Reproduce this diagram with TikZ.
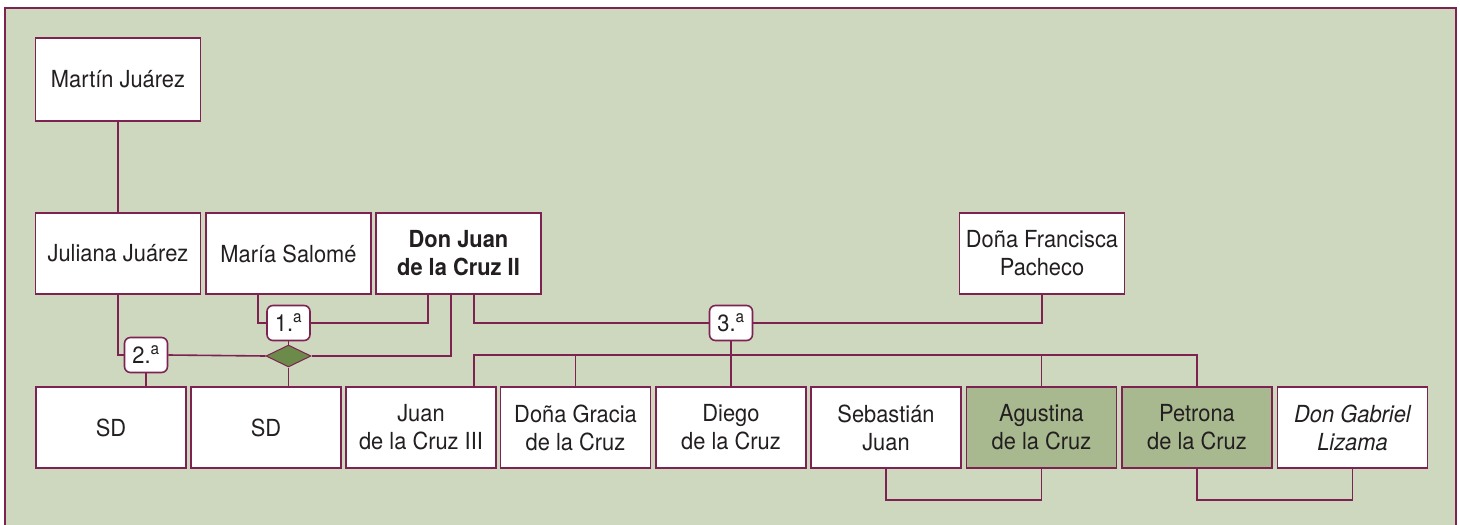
\documentclass[tikz,border=0pt]{standalone}
\usepackage{fontspec}
\setmainfont{TeX Gyre Heros}[FakeStretch=0.93]
\usetikzlibrary{shapes.geometric}
\definecolor{bord}{RGB}{126,34,82}
\definecolor{bggreen}{RGB}{205,216,191}
\definecolor{shade}{RGB}{168,184,143}
\definecolor{diam}{RGB}{108,138,74}
\definecolor{txt}{RGB}{35,31,32}
\tikzset{
  person/.style={draw=bord, fill=white, line width=1.6pt, minimum width=150pt, minimum height=81pt,
    inner sep=0pt, align=center, text=txt, font=\fontsize{23.5}{28}\selectfont},
  wide/.style={minimum width=165pt},
  shaded/.style={fill=shade},
  marr/.style={draw=bord, fill=white, line width=1.6pt, rounded corners=6pt, minimum width=43pt,
    minimum height=35pt, inner sep=0pt, text=txt, font=\fontsize{23.5}{26}\selectfont},
  link/.style={draw=bord, line width=1.6pt},
  frame/.style={draw=bord, line width=2pt}
}
\begin{document}
\begin{tikzpicture}[x=1pt, y=-1pt]
\useasboundingbox (0,0) rectangle (1460,525);
\fill[bggreen] (5,8) rectangle (1456,530);
\draw[frame] (5,540) -- (5,8) -- (1456,8) -- (1456,540);

% upper generations
\node[person, wide, minimum height=83pt] (mj) at (118,79.5) {Martín Juárez};
\node[person, wide] (jj) at (118,253.5) {Juliana Juárez};
\node[person, wide] (ms) at (288.5,253.5) {María Salomé};
\node[person, wide] (dj) at (458.5,253.5) {\bfseries Don Juan\\\bfseries de la Cruz II};
\node[person, wide] (df) at (1042,253.5) {Doña Francisca\\Pacheco};

% children row
\node[person] (sd1) at (111,427.5) {SD};
\node[person] (sd2) at (266,427.5) {SD};
\node[person] (j3) at (421,427.5) {Juan\\de la Cruz III};
\node[person] (dg) at (575.5,427.5) {Doña Gracia\\de la Cruz};
\node[person] (di) at (731,427.5) {Diego\\de la Cruz};
\node[person] (se) at (886,427.5) {Sebastián\\Juan};
\node[person, shaded] (ag) at (1041.5,427.5) {Agustina\\de la Cruz};
\node[person, shaded] (pe) at (1197,427.5) {Petrona\\de la Cruz};
\node[person] (ga) at (1352.5,427.5) {\itshape Don Gabriel\\\itshape Lizama};

% marriage labels
\node[marr] (l1) at (288.5,323) {1.\textsuperscript{a}};
\node[marr] (l2) at (146,355) {2.\textsuperscript{a}};
\node[marr] (l3) at (731,323) {3.\textsuperscript{a}};
\node[diamond, draw=bord, fill=diam, line width=1pt, minimum width=45pt, minimum height=22pt,
  inner sep=0pt] (dia) at (288.5,356) {};

% connectors
\draw[link] (mj) -- (jj);
\draw[link] ([xshift=-30.5pt]ms.south) |- (l1.west);
\draw[link] (l1.east) -| ([xshift=-30.5pt]dj.south);
\draw[link] (l1.south) -- (dia.north);
\draw[link] (jj.south) |- (l2.west);
\draw[link] (l2.east) -- (dia.west);
\draw[link] (dia.east) -| ([xshift=-7.5pt]dj.south);
\draw[link] (l2.south) -- (l2.south |- sd1.north);
\draw[link] (dia.south) -- (dia.south |- sd2.north);

\draw[link] ([xshift=15.5pt]dj.south) |- (l3.west);
\draw[link] (l3.east) -| (df.south);
\draw[link] (l3.south) -- (di.north);
\coordinate (busL) at (474,355);
\coordinate (busR) at (pe.north |- busL);
\draw[link] (busL |- j3.north) -- (busL) -- (busR) -- (pe.north);
\draw[link] (dg.north) -- (dg.north |- busL);
\draw[link] (ag.north) -- (ag.north |- busL);

\draw[link] (se.south) -- ++(0,31) -| (ag.south);
\draw[link] (pe.south) -- ++(0,31) -| (ga.south);
\end{tikzpicture}
\end{document}
